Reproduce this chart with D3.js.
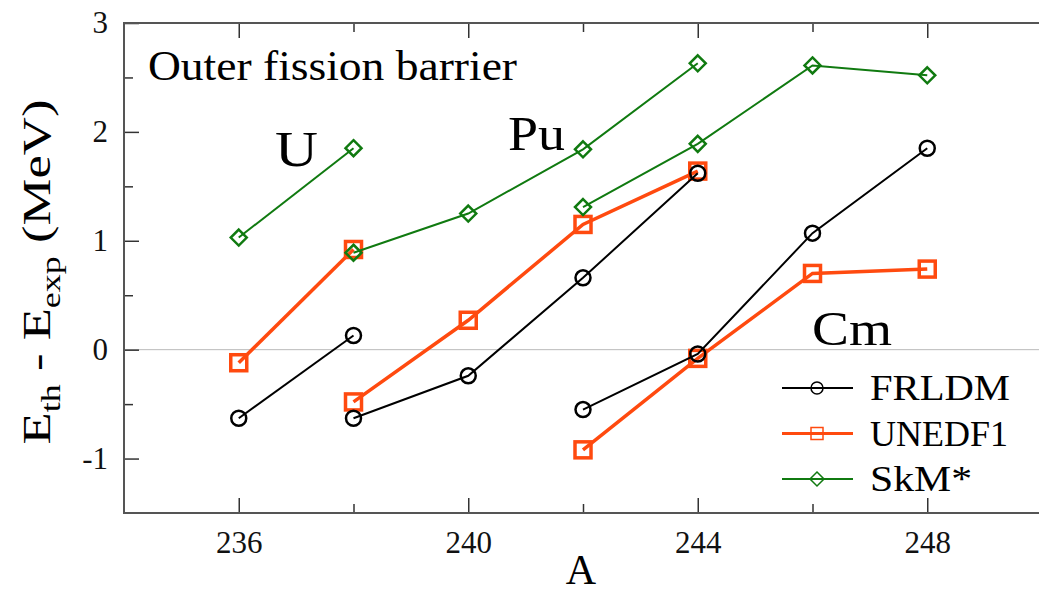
<!DOCTYPE html>
<html lang="en">
<head>
<meta charset="UTF-8">
<title>Outer fission barrier</title>
<style>
  body { margin: 0; background: #fff; }
  svg { display: block; font-family: 'Liberation Serif', 'Times New Roman', serif; }
  .frame { fill: none; stroke: #555; stroke-width: 2; }
  .axis path { display: none; }
  .axis line { stroke: #333; stroke-width: 1.5; }
  .axis text { font-family: 'Liberation Serif', serif; font-size: 31px; fill: #111; }
  .zero { stroke: #bbb; stroke-width: 1; }
</style>
</head>
<body>
<svg id="chart" width="1039" height="595"></svg>
<script src="https://d3js.org/d3.v7.min.js"></script>
<script>
// mass numbers per isotope chain
const uA  = [236, 238];
const puA = [238, 240, 242, 244];
const cmA = [242, 244, 246, 248];

// E_th - E_exp (MeV)
const frldmU  = [-0.63, 0.13];
const frldmPu = [-0.63, -0.24, 0.66, 1.62];
const frldmCm = [-0.55, -0.04, 1.07, 1.85];

const unedfU  = [-0.12, 0.92];
const unedfPu = [-0.48, 0.27, 1.15, 1.64];
const unedfCm = [-0.92, -0.08, 0.70, 0.74];

const skmU  = [1.03, 1.85];
const skmPu = [0.89, 1.25, 1.84, 2.63];
const skmCm = [1.31, 1.89, 2.61, 2.52];

const xMajor = [236, 240, 244, 248];
const xMinor = [238, 242, 246];
const yMajor = [-1, 0, 1, 2, 3];
const yMinor = [-0.5, 0.5, 1.5, 2.5];

const svg = d3.select("#chart");
const m = { left: 124, top: 23, right: 1042, bottom: 513 };

const x = d3.scaleLinear().domain([234, 250]).range([m.left, m.right]);
const y = d3.scaleLinear().domain([-1.5, 3]).range([m.bottom, m.top]);

svg.append("clipPath").attr("id", "clip")
  .append("rect").attr("x", m.left).attr("y", m.top)
  .attr("width", m.right - m.left).attr("height", m.bottom - m.top);

// zero line
svg.append("line").attr("class", "zero")
  .attr("x1", x(234)).attr("x2", x(250)).attr("y1", y(0)).attr("y2", y(0));

// axes with inward ticks
function addAxis(axisFn, scale, values, size, transform, labels) {
  return svg.append("g").attr("class", "axis").attr("transform", transform)
    .call(axisFn(scale).tickValues(values).tickSize(size)
      .tickFormat(labels ? (d => String(d)) : ""));
}
const bx = addAxis(d3.axisBottom, x, xMajor, -15, `translate(0,${m.bottom})`, true);
bx.selectAll("text").attr("y", 18);
addAxis(d3.axisBottom, x, xMinor, -9, `translate(0,${m.bottom})`, false);
addAxis(d3.axisTop, x, xMajor, -15, `translate(0,${m.top})`, false);
addAxis(d3.axisTop, x, xMinor, -9, `translate(0,${m.top})`, false);

const ly = addAxis(d3.axisLeft, y, yMajor, -15, `translate(${m.left},0)`, true);
ly.selectAll("text").attr("x", -16).attr("dy", "0.32em");
addAxis(d3.axisLeft, y, yMinor, -9, `translate(${m.left},0)`, false);

svg.append("rect").attr("class", "frame")
  .attr("x", m.left).attr("y", m.top)
  .attr("width", m.right - m.left).attr("height", m.bottom - m.top);

// series
const series = [
  { name: "UNEDF1", color: "#ff4a0f", width: 3.5, marker: "square",
    sets: [[uA, unedfU], [puA, unedfPu], [cmA, unedfCm]] },
  { name: "FRLDM", color: "#000", width: 2, marker: "circle",
    sets: [[uA, frldmU], [puA, frldmPu], [cmA, frldmCm]] },
  { name: "SkM*", color: "#107a10", width: 2, marker: "diamond",
    sets: [[uA, skmU], [puA, skmPu], [cmA, skmCm]] }
];

const line = d3.line().x(d => x(d[0])).y(d => y(d[1]));

function drawMarker(g, type, cx, cy, color, big) {
  if (type === "circle") {
    g.append("circle").attr("cx", cx).attr("cy", cy).attr("r", big ? 7.5 : 6)
      .attr("fill", "none").attr("stroke", color).attr("stroke-width", big ? 2.5 : 1.5);
  } else if (type === "square") {
    const s = big ? 16 : 12;
    g.append("rect").attr("x", cx - s / 2).attr("y", cy - s / 2).attr("width", s).attr("height", s)
      .attr("fill", "none").attr("stroke", color).attr("stroke-width", big ? 3.5 : 1.5);
  } else {
    const s = big ? 8 : 7;
    g.append("path").attr("d", `M${cx},${cy - s}L${cx + s},${cy}L${cx},${cy + s}L${cx - s},${cy}Z`)
      .attr("fill", "none").attr("stroke", color).attr("stroke-width", big ? 2.5 : 1.5);
  }
}

const plot = svg.append("g").attr("clip-path", "url(#clip)");
series.forEach(s => {
  s.sets.forEach(([as, vs]) => {
    const pts = as.map((a, i) => [a, vs[i]]);
    plot.append("path").attr("d", line(pts)).attr("fill", "none")
      .attr("stroke", s.color).attr("stroke-width", s.width);
    pts.forEach(p => drawMarker(plot, s.marker, x(p[0]), y(p[1]), s.color, true));
  });
});

// text helper: serif glyphs in the original run wider than Times
function label(px, py, size, width, txt, anchor) {
  return svg.append("text").attr("x", px).attr("y", py).attr("font-size", size)
    .attr("text-anchor", anchor || "start")
    .attr("textLength", width).attr("lengthAdjust", "spacingAndGlyphs").text(txt);
}

// annotations
label(148, 80, 42, 369, "Outer fission barrier");
label(275, 166, 50, 43, "U");
label(508, 150, 48, 57, "Pu");
label(812, 345, 48, 80, "Cm");

// legend
const legendOrder = ["FRLDM", "UNEDF1", "SkM*"];
const legendWidths = [140, 138, 102];
const legend = svg.append("g");
legendOrder.forEach((name, i) => {
  const s = series.find(d => d.name === name);
  const ly0 = 388 + i * 45.5;
  legend.append("line").attr("x1", 782).attr("x2", 853).attr("y1", ly0).attr("y2", ly0)
    .attr("stroke", s.color).attr("stroke-width", s.width === 3.5 ? 3 : 2);
  drawMarker(legend, s.marker, 817, ly0, s.color, false);
  label(870, ly0 + 12, 36, legendWidths[i], name);
});

// axis titles
svg.append("text").attr("x", 581).attr("y", 584).attr("font-size", 42).attr("text-anchor", "middle").text("A");
const yt = svg.append("text").attr("transform", "translate(50,272) rotate(-90)")
  .attr("font-size", 41).attr("text-anchor", "middle")
  .attr("textLength", 345).attr("lengthAdjust", "spacingAndGlyphs");
yt.append("tspan").text("E");
yt.append("tspan").attr("font-size", 28).attr("dy", 10).text("th");
yt.append("tspan").attr("dy", -10).text(" - E");
yt.append("tspan").attr("font-size", 28).attr("dy", 10).text("exp");
yt.append("tspan").attr("dy", -10).text(" (MeV)");
</script>
</body>
</html>
